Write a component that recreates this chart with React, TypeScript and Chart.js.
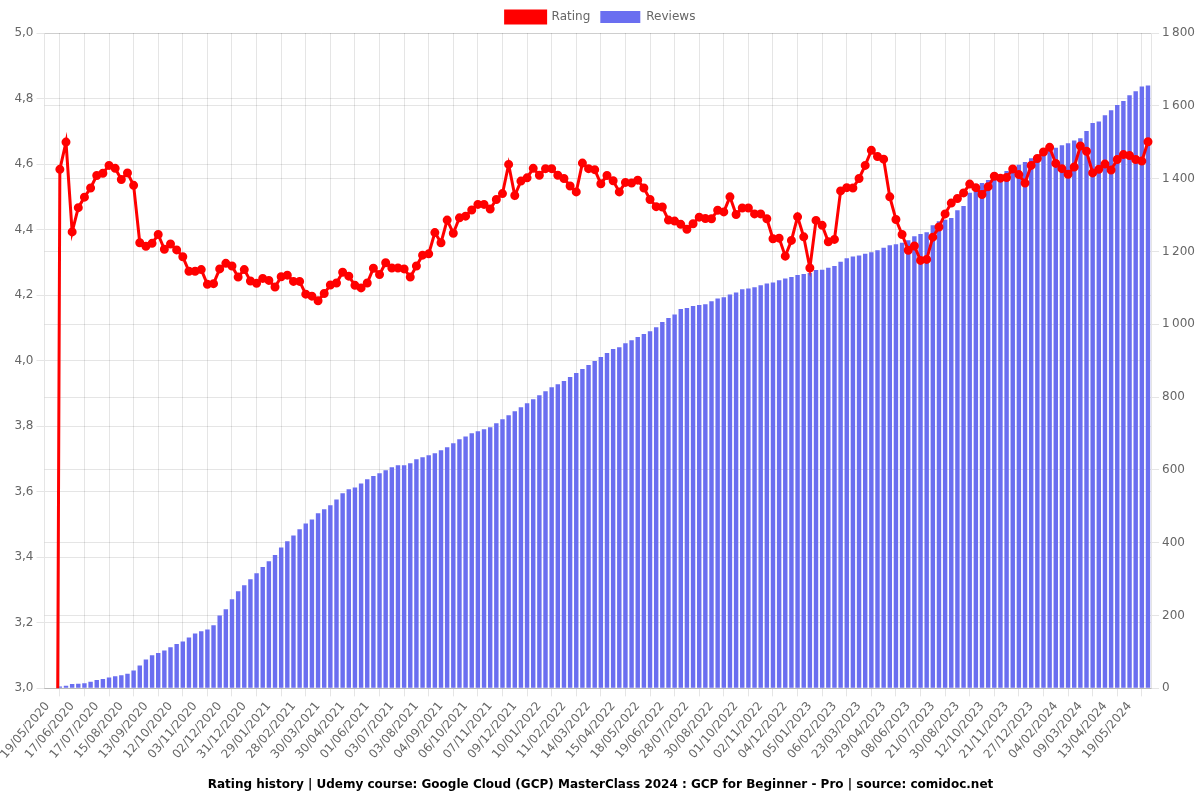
import React, { useEffect, useRef } from "react";
import { Chart, registerables } from "chart.js";

Chart.register(...registerables);

const dates: string[] = [
  "19/05/2020", "26/05/2020", "02/06/2020", "09/06/2020",
  "17/06/2020", "24/06/2020", "02/07/2020", "09/07/2020",
  "17/07/2020", "24/07/2020", "31/07/2020", "07/08/2020",
  "15/08/2020", "22/08/2020", "29/08/2020", "05/09/2020",
  "13/09/2020", "20/09/2020", "27/09/2020", "04/10/2020",
  "12/10/2020", "17/10/2020", "23/10/2020", "28/10/2020",
  "03/11/2020", "10/11/2020", "17/11/2020", "24/11/2020",
  "02/12/2020", "09/12/2020", "16/12/2020", "23/12/2020",
  "31/12/2020", "07/01/2021", "14/01/2021", "21/01/2021",
  "29/01/2021", "05/02/2021", "12/02/2021", "20/02/2021",
  "28/02/2021", "07/03/2021", "15/03/2021", "22/03/2021",
  "30/03/2021", "07/04/2021", "15/04/2021", "22/04/2021",
  "30/04/2021", "08/05/2021", "16/05/2021", "24/05/2021",
  "01/06/2021", "09/06/2021", "17/06/2021", "25/06/2021",
  "03/07/2021", "11/07/2021", "19/07/2021", "26/07/2021",
  "03/08/2021", "11/08/2021", "19/08/2021", "27/08/2021",
  "04/09/2021", "12/09/2021", "20/09/2021", "28/09/2021",
  "06/10/2021", "14/10/2021", "22/10/2021", "30/10/2021",
  "07/11/2021", "15/11/2021", "23/11/2021", "01/12/2021",
  "09/12/2021", "17/12/2021", "25/12/2021", "02/01/2022",
  "10/01/2022", "18/01/2022", "26/01/2022", "03/02/2022",
  "11/02/2022", "19/02/2022", "27/02/2022", "06/03/2022",
  "14/03/2022", "22/03/2022", "30/03/2022", "07/04/2022",
  "15/04/2022", "23/04/2022", "01/05/2022", "09/05/2022",
  "18/05/2022", "26/05/2022", "03/06/2022", "11/06/2022",
  "19/06/2022", "29/06/2022", "09/07/2022", "18/07/2022",
  "28/07/2022", "05/08/2022", "13/08/2022", "21/08/2022",
  "30/08/2022", "07/09/2022", "15/09/2022", "23/09/2022",
  "01/10/2022", "09/10/2022", "17/10/2022", "25/10/2022",
  "02/11/2022", "10/11/2022", "18/11/2022", "26/11/2022",
  "04/12/2022", "12/12/2022", "20/12/2022", "28/12/2022",
  "05/01/2023", "13/01/2023", "21/01/2023", "29/01/2023",
  "06/02/2023", "17/02/2023", "28/02/2023", "11/03/2023",
  "23/03/2023", "01/04/2023", "10/04/2023", "19/04/2023",
  "29/04/2023", "09/05/2023", "19/05/2023", "29/05/2023",
  "08/06/2023", "19/06/2023", "30/06/2023", "10/07/2023",
  "21/07/2023", "31/07/2023", "10/08/2023", "20/08/2023",
  "30/08/2023", "10/09/2023", "21/09/2023", "01/10/2023",
  "12/10/2023", "22/10/2023", "01/11/2023", "11/11/2023",
  "21/11/2023", "30/11/2023", "09/12/2023", "18/12/2023",
  "27/12/2023", "05/01/2024", "15/01/2024", "25/01/2024",
  "04/02/2024", "12/02/2024", "21/02/2024", "29/02/2024",
  "09/03/2024", "18/03/2024", "27/03/2024", "05/04/2024",
  "13/04/2024", "22/04/2024", "01/05/2024", "10/05/2024",
  "19/05/2024", "26/05/2024", "02/06/2024", "09/06/2024",
];

const rating: number[] = [
  0, 0, 4.584, 4.667, 4.393, 4.467, 4.499, 4.527, 4.565, 4.572,
  4.596, 4.587, 4.553, 4.573, 4.535, 4.36, 4.349, 4.358, 4.385, 4.34,
  4.356, 4.338, 4.317, 4.273, 4.273, 4.278, 4.233, 4.235, 4.28, 4.297,
  4.289, 4.255, 4.278, 4.243, 4.236, 4.251, 4.245, 4.225, 4.256, 4.261,
  4.242, 4.242, 4.203, 4.197, 4.183, 4.205, 4.231, 4.237, 4.27, 4.258,
  4.23, 4.222, 4.237, 4.282, 4.263, 4.299, 4.283, 4.283, 4.28, 4.255,
  4.289, 4.322, 4.326, 4.391, 4.36, 4.429, 4.389, 4.436, 4.441, 4.46,
  4.477, 4.477, 4.463, 4.492, 4.51, 4.599, 4.504, 4.548, 4.558, 4.587,
  4.566, 4.586, 4.586, 4.566, 4.556, 4.533, 4.515, 4.603, 4.586, 4.583,
  4.54, 4.565, 4.549, 4.515, 4.544, 4.542, 4.551, 4.527, 4.492, 4.47,
  4.469, 4.429, 4.426, 4.416, 4.401, 4.418, 4.438, 4.434, 4.433, 4.459,
  4.454, 4.5, 4.446, 4.466, 4.466, 4.448, 4.448, 4.433, 4.372, 4.374,
  4.319, 4.367, 4.439, 4.378, 4.283, 4.428, 4.413, 4.363, 4.37, 4.518,
  4.528, 4.527, 4.556, 4.596, 4.642, 4.623, 4.615, 4.5, 4.431, 4.385,
  4.337, 4.35, 4.306, 4.309, 4.377, 4.408, 4.448, 4.481, 4.495, 4.512,
  4.539, 4.528, 4.507, 4.531, 4.563, 4.557, 4.559, 4.585, 4.568, 4.542,
  4.596, 4.617, 4.637, 4.651, 4.602, 4.586, 4.569, 4.591, 4.655, 4.639,
  4.573, 4.584, 4.6, 4.582, 4.614, 4.629, 4.626, 4.614, 4.609, 4.668,
];

const reviews: number[] = [
  0, 0, 5, 7, 12, 13, 14, 18, 23, 26,
  30, 33, 36, 40, 49, 63, 79, 91, 97, 104,
  113, 122, 129, 140, 151, 157, 162, 173, 200, 217,
  245, 267, 283, 300, 316, 333, 349, 366, 387, 404,
  420, 437, 453, 464, 481, 492, 503, 519, 536, 547,
  552, 563, 574, 583, 591, 599, 607, 613, 613, 618,
  629, 635, 640, 646, 654, 662, 673, 684, 692, 701,
  706, 712, 717, 728, 739, 750, 761, 772, 783, 794,
  805, 816, 827, 835, 844, 855, 866, 877, 888, 899,
  910, 921, 932, 937, 948, 956, 965, 973, 981, 992,
  1006, 1017, 1027, 1042, 1045, 1050, 1053, 1055, 1063, 1071,
  1074, 1082, 1087, 1096, 1098, 1102, 1107, 1112, 1115, 1121,
  1126, 1130, 1135, 1138, 1141, 1149, 1150, 1155, 1160, 1172,
  1181, 1186, 1189, 1194, 1198, 1203, 1210, 1217, 1220, 1224,
  1231, 1242, 1248, 1253, 1272, 1283, 1287, 1292, 1313, 1325,
  1361, 1372, 1388, 1396, 1407, 1411, 1421, 1433, 1438, 1446,
  1456, 1463, 1470, 1478, 1485, 1492, 1497, 1505, 1511, 1531,
  1553, 1557, 1574, 1588, 1602, 1613, 1629, 1640, 1653, 1656,
];

const titleText =
  "Rating history | Udemy course: Google Cloud (GCP) MasterClass 2024 : GCP for Beginner - Pro | source: comidoc.net";

const FONT = "'DejaVu Sans', sans-serif";

export default function App() {
  const ref = useRef<HTMLCanvasElement | null>(null);

  useEffect(() => {
    if (!ref.current) return;
    Chart.defaults.font.family = FONT;
    const chart = new Chart(ref.current, {
      type: "bar",
      data: {
        labels: dates,
        datasets: [
          {
            type: "line",
            label: "Rating",
            data: rating,
            yAxisID: "y",
            borderColor: "#ff0000",
            backgroundColor: "#ff0000",
            pointBackgroundColor: "#ff0000",
            pointBorderColor: "#ff0000",
            borderWidth: 3,
            pointRadius: 3,
            tension: 0,
          } as any,
          {
            type: "bar",
            label: "Reviews",
            data: reviews,
            yAxisID: "y1",
            backgroundColor: "#6a6ef0",
            borderColor: "#6a6ef0",
          },
        ],
      },
      options: {
        animation: false,
        responsive: true,
        maintainAspectRatio: false,
        layout: { padding: { left: 3, right: 2, top: 1, bottom: 1 } },
        plugins: {
          legend: {
            position: "top",
            labels: { font: { size: 12, family: FONT }, color: "#666" },
          },
          title: {
            display: true,
            position: "bottom",
            text: titleText,
            color: "#000",
            padding: { top: 13, bottom: 7 },
            font: { size: 12, weight: "bold", family: FONT },
          },
          tooltip: { enabled: false },
        },
        scales: {
          x: {
            ticks: { color: "#666", font: { size: 12, family: FONT } },
          },
          y: {
            position: "left",
            min: 3,
            max: 5,
            ticks: {
              stepSize: 0.2,
              color: "#666",
              font: { size: 12, family: FONT },
              callback: (v: any) => Number(v).toFixed(1).replace(".", ","),
            },
          },
          y1: {
            position: "right",
            min: 0,
            max: 1800,
            ticks: {
              stepSize: 200,
              color: "#666",
              font: { size: 12, family: FONT },
              callback: (v: any) =>
                String(Math.round(Number(v))).replace(/\B(?=(\d{3})+(?!\d))/g, "\u202f"),
            },
          },
        },
      },
    });
    return () => chart.destroy();
  }, []);

  return (
    <div style={{ position: "fixed", left: 0, top: 0, width: 1200, height: 800, background: "#fff" }}>
      <canvas ref={ref} />
    </div>
  );
}
